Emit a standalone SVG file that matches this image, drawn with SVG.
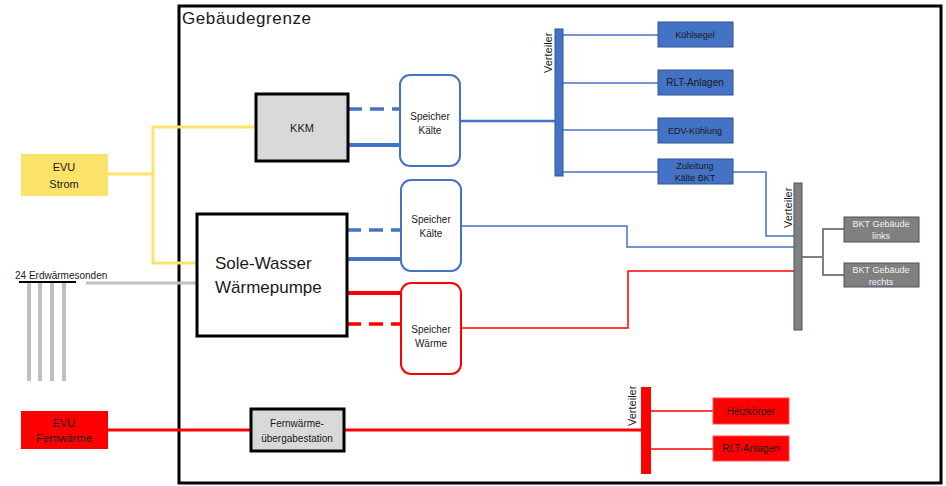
<svg xmlns="http://www.w3.org/2000/svg" width="946" height="486" viewBox="0 0 946 486">
<style>
text{font-family:"Liberation Sans",Arial,sans-serif;fill:#1a1a1a}
.c{text-anchor:middle}
.s9{font-size:9px}.s10{font-size:10px}.s11{font-size:11px}
.blue{stroke:#4472c4;fill:none}
.red{stroke:#ff0000;fill:none}
.yel{stroke:#ffe36b;fill:none;stroke-width:3}
.gry{stroke:#bfbfbf;fill:none}
.dgr{stroke:#808080;fill:none;stroke-width:2}
.bbox{fill:#4472c4;stroke:#2f5597;stroke-width:1}
.rbox{fill:#ff0000;stroke:#ff5050;stroke-width:1}
.gbox{fill:#808080;stroke:#44546a;stroke-width:1}
.wt{fill:#f2f2f2}
</style>
<rect width="946" height="486" fill="#ffffff"/>
<g id="building">
<rect x="179" y="6" width="762" height="477" fill="none" stroke="#000" stroke-width="3"/>
<text x="182" y="24" style="font-size:17px" textLength="129">Gebäudegrenze</text>
</g>
<g id="connectors">
<!-- yellow power -->
<polyline class="yel" points="108,174 153,174"/>
<polyline class="yel" points="255,127 153,127 153,263 196,263"/>
<!-- ground -->
<line class="gry" x1="86" y1="283" x2="196" y2="283" stroke-width="3"/>
<!-- KKM to Speicher -->
<line class="blue" x1="348" y1="109" x2="399" y2="109" stroke-width="3.5" stroke-dasharray="14,8"/>
<line class="blue" x1="348" y1="145" x2="399" y2="145" stroke-width="4"/>
<!-- WP to Speicher Kälte -->
<line class="blue" x1="347" y1="230" x2="400" y2="230" stroke-width="3.5" stroke-dasharray="14,8"/>
<line class="blue" x1="347" y1="259" x2="400" y2="259" stroke-width="4"/>
<!-- WP to Speicher Wärme -->
<line class="red" x1="347" y1="293" x2="400" y2="293" stroke-width="4"/>
<line class="red" x1="347" y1="324" x2="400" y2="324" stroke-width="3.5" stroke-dasharray="14,8"/>
<!-- Speicher Kälte 1 to Verteiler -->
<line class="blue" x1="460" y1="121" x2="556" y2="121" stroke-width="2.5"/>
<!-- Verteiler branches -->
<g class="blue" stroke-width="1.5">
<line x1="563" y1="35" x2="658" y2="35"/>
<line x1="563" y1="83" x2="658" y2="83"/>
<line x1="563" y1="130" x2="658" y2="130"/>
<line x1="563" y1="172" x2="658" y2="172"/>
<polyline points="733,172 766,172 766,236 794,236"/>
<polyline points="461,226 627,226 627,247 794,247"/>
</g>
<polyline class="red" stroke-width="1.5" points="461,328 628,328 628,271 794,271"/>
<!-- gray verteiler to BKT -->
<polyline class="dgr" points="802,257 823,257"/>
<polyline class="dgr" points="844,229 823,229 823,275 844,275"/>
<!-- Fernwärme -->
<line class="red" x1="108" y1="430" x2="250" y2="430" stroke-width="3"/>
<line class="red" x1="344" y1="430" x2="641" y2="430" stroke-width="3"/>
<line class="red" x1="651" y1="411" x2="713" y2="411" stroke-width="1.5"/>
<line class="red" x1="651" y1="449" x2="713" y2="449" stroke-width="1.5"/>
</g>
<g id="evu-strom">
<rect x="21" y="154" width="87" height="42" fill="#fbe26b"/>
<text class="c s11" x="64" y="171">EVU</text>
<text class="c s11" x="64" y="188">Strom</text>
</g>
<g id="erdwaermesonden">
<text class="s10" x="15" y="279">24 Erdwärmesonden</text>
<line x1="19" y1="282" x2="76" y2="282" stroke="#000" stroke-width="2"/>
<g class="gry" stroke-width="4">
<line x1="29" y1="283" x2="29" y2="381"/>
<line x1="40" y1="283" x2="40" y2="381"/>
<line x1="52" y1="283" x2="52" y2="381"/>
<line x1="64" y1="283" x2="64" y2="381"/>
</g>
</g>
<g id="evu-fernwaerme">
<rect x="21" y="411" width="87" height="38" fill="#ff0000"/>
<text class="c s11" x="64" y="427">EVU</text>
<text class="c s11" x="64" y="442">Fernwärme</text>
</g>
<g id="kkm">
<rect x="256" y="94" width="92" height="67" fill="#d9d9d9" stroke="#000" stroke-width="3"/>
<text class="c s11" x="302" y="132">KKM</text>
</g>
<g id="waermepumpe">
<rect x="197" y="214" width="150" height="122" fill="#fff" stroke="#000" stroke-width="3"/>
<text x="215" y="269" style="font-size:17px">Sole-Wasser</text>
<text x="215" y="293" style="font-size:17px">Wärmepumpe</text>
</g>
<g id="fernwaerme-station">
<rect x="251" y="409" width="93" height="42" fill="#d9d9d9" stroke="#000" stroke-width="3"/>
<text class="c s10" x="297" y="427">Fernwärme-</text>
<text class="c s10" x="297" y="442">übergabestation</text>
</g>
<g id="speicher-kaelte-1">
<rect x="400" y="75" width="60" height="91" rx="10" fill="#fff" stroke="#4472c4" stroke-width="2"/>
<text class="c s10" x="430" y="120">Speicher</text>
<text class="c s10" x="430" y="134">Kälte</text>
</g>
<g id="speicher-kaelte-2">
<rect x="401" y="180" width="60" height="91" rx="10" fill="#fff" stroke="#4472c4" stroke-width="2"/>
<text class="c s10" x="431" y="223">Speicher</text>
<text class="c s10" x="431" y="237">Kälte</text>
</g>
<g id="speicher-waerme">
<rect x="401" y="283" width="60" height="91" rx="10" fill="#fff" stroke="#ff0000" stroke-width="2"/>
<text class="c s10" x="431" y="333">Speicher</text>
<text class="c s10" x="431" y="347">Wärme</text>
</g>
<g id="verteiler-kaelte">
<rect x="555" y="29" width="8" height="147" class="bbox"/>
<text class="s11" transform="translate(552,73) rotate(-90)">Verteiler</text>
</g>
<g id="kuehlsegel">
<rect x="658" y="22" width="75" height="25" class="bbox"/>
<text class="c s9" x="695" y="38">Kühlsegel</text>
</g>
<g id="rlt-kaelte">
<rect x="658" y="70" width="75" height="25" class="bbox"/>
<text class="c s10" x="695" y="86">RLT-Anlagen</text>
</g>
<g id="edv">
<rect x="658" y="118" width="75" height="25" class="bbox"/>
<text class="c s9" x="695" y="134">EDV-Kühlung</text>
</g>
<g id="zuleitung-bkt">
<rect x="658" y="159" width="75" height="25" class="bbox"/>
<text class="c s9" x="695" y="169">Zuleitung</text>
<text class="c s9" x="695" y="181">Kälte BKT</text>
</g>
<g id="verteiler-bkt">
<rect x="794" y="183" width="8" height="147" class="gbox"/>
<text class="s11" transform="translate(792,228) rotate(-90)">Verteiler</text>
</g>
<g id="bkt-links">
<rect x="844" y="217" width="75" height="25" class="gbox"/>
<text class="c s9 wt" x="881" y="227">BKT Gebäude</text>
<text class="c s9 wt" x="881" y="239">links</text>
</g>
<g id="bkt-rechts">
<rect x="844" y="263" width="75" height="24" class="gbox"/>
<text class="c s9 wt" x="881" y="273">BKT Gebäude</text>
<text class="c s9 wt" x="881" y="285">rechts</text>
</g>
<g id="verteiler-waerme">
<rect x="641" y="387" width="10" height="87" fill="#ff0000"/>
<text class="s11" transform="translate(636,426) rotate(-90)">Verteiler</text>
</g>
<g id="heizkoerper">
<rect x="713" y="398" width="76" height="26" class="rbox"/>
<text class="c s10" x="751" y="415">Heizkörper</text>
</g>
<g id="rlt-waerme">
<rect x="713" y="436" width="76" height="25" class="rbox"/>
<text class="c s10" x="751" y="452">RLT-Anlagen</text>
</g>
</svg>
